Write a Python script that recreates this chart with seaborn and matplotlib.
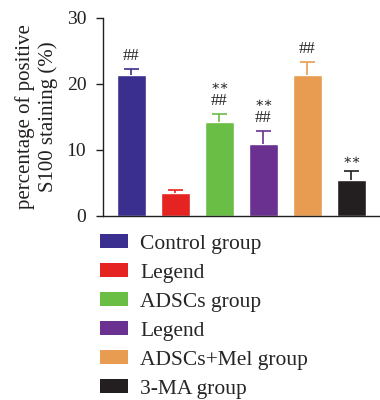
import matplotlib
matplotlib.use("Agg")
import matplotlib.pyplot as plt
import seaborn as sns
import pandas as pd
from matplotlib.patches import Patch

# ---- data ----
group_ids = ["G1", "G2", "G3", "G4", "G5", "G6"]
legend_labels = ["Control group", "Legend", "ADSCs group", "Legend",
                 "ADSCs+Mel group", "3-MA group"]
values = [21.3, 3.5, 14.2, 10.9, 21.3, 5.5]
errors = [1.0, 0.5, 1.2, 2.0, 2.0, 1.3]
annotations = [["##"], [], ["##", "\u2217\u2217"], ["##", "\u2217\u2217"],
               ["##"], ["\u2217\u2217"]]
colors = ["#3a2f8f", "#e52421", "#6abd45", "#6a3190", "#e89c52", "#231f20"]
y_ticks = [0, 10, 20, 30]
y_label = "percentage of positive\nS100 staining (%)"

sns.set_style("white")
plt.rcParams["font.family"] = ["Liberation Serif", "DejaVu Serif"]

df = pd.DataFrame({"group": group_ids, "value": values})

fig = plt.figure(figsize=(3.8, 4.0), dpi=100)
ax = fig.add_axes([0.271, 0.46, 0.729, 0.495])

sns.barplot(data=df, x="group", y="value", hue="group", palette=colors,
            order=group_ids, hue_order=group_ids, errorbar=None,
            width=0.66, legend=False, ax=ax, saturation=1)

cap_half = 0.17
for i, (v, e, c) in enumerate(zip(values, errors, colors)):
    ax.vlines(i, v, v + e, colors=c, linewidth=1.2, zorder=3)
    ax.hlines(v + e, i - cap_half, i + cap_half, colors=c, linewidth=1.2,
              zorder=3)
    for k, txt in enumerate(annotations[i]):
        yy = v + e + 2.0 + 2.55 * k
        if txt == "##":
            ax.text(i, yy, txt, ha="center", va="center", fontsize=12,
                    color="#231f20")
        else:
            ax.text(i, yy - 0.3, txt, ha="center", va="center", fontsize=10,
                    color="#231f20", family=["DejaVu Serif"])

ax.set_ylim(0, 30)
ax.set_xlim(-0.648, 5.65)
ax.set_yticks(y_ticks)
ax.set_yticklabels([str(t) for t in y_ticks], fontsize=14, color="#231f20")
ax.set_xticks([])
ax.set_xlabel("")
ax.set_ylabel(y_label, fontsize=15, color="#231f20", labelpad=6,
              linespacing=1.25)
ax.tick_params(axis="y", length=5, width=1, color="#231f20", pad=7, left=True)
for s in ["top", "right"]:
    ax.spines[s].set_visible(False)
for s in ["left", "bottom"]:
    ax.spines[s].set_color("#231f20")
    ax.spines[s].set_linewidth(1.0)

handles = [Patch(facecolor=c, edgecolor="none") for c in colors]
fig.legend(handles, legend_labels, loc="upper left",
           bbox_to_anchor=(0.262, 0.415), frameon=False, fontsize=15.5,
           handlelength=1.3, handleheight=0.62, handletextpad=0.6,
           labelspacing=0.44, borderaxespad=0, borderpad=0)

fig.savefig("out.png", dpi=100)
